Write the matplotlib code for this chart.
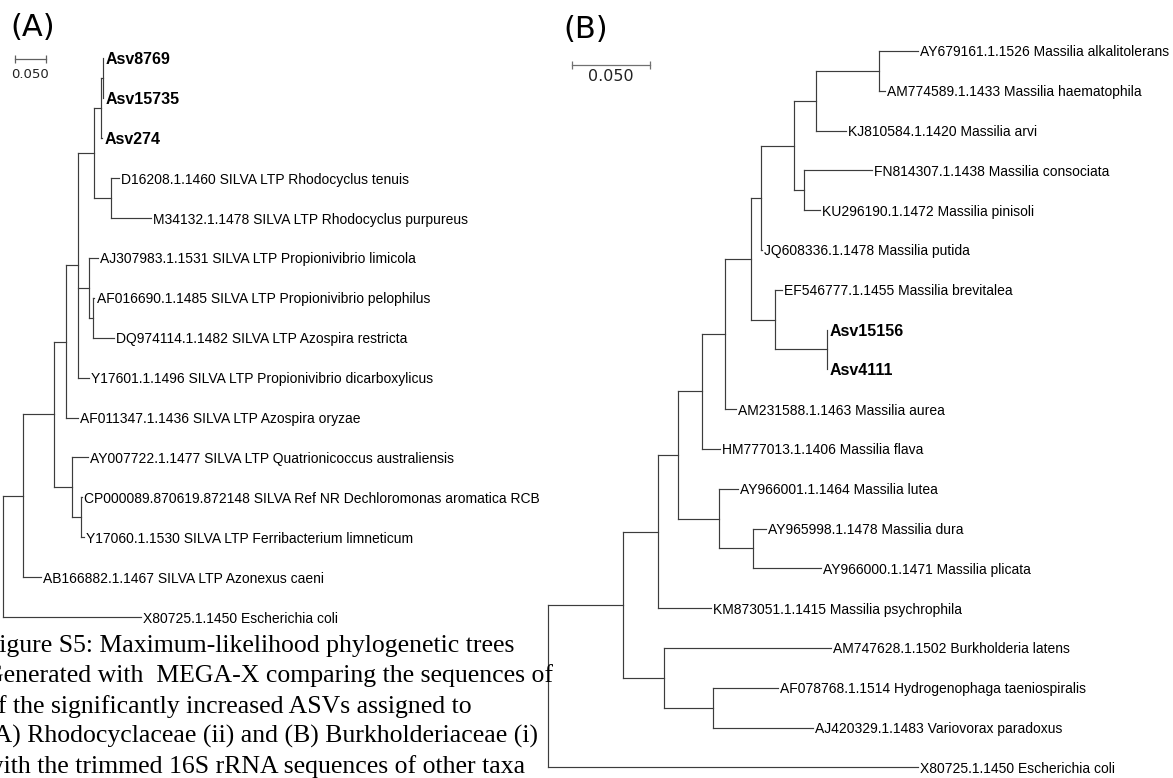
import numpy as np
import matplotlib
matplotlib.use('Agg')
import matplotlib.pyplot as plt
from matplotlib.collections import LineCollection

# ---- tree (A): Rhodocyclaceae, nodes in preorder (parent index, branch length, label)
a_parent = [-1, 0, 1, 2, 3, 4, 5, 6, 7, 7, 6, 5, 11, 11, 4, 14, 14, 16, 16, 4, 3, 2, 21, 21, 23, 23, 1, 0]
a_length = [0, 0.032, 0.050, 0.020, 0.019, 0.027, 0.011, 0.0024, 0.001, 0.001, 0.0016, 0.026, 0.013, 0.065,
            0.018, 0.015, 0.006, 0.003, 0.035, 0.018, 0.019, 0.030, 0.025, 0.015, 0.001, 0.004, 0.029, 0.223]
a_label = ['', '', '', '', '', '', '', '',
           'Asv8769', 'Asv15735', 'Asv274', '',
           'D16208.1.1460 SILVA LTP Rhodocyclus tenuis',
           'M34132.1.1478 SILVA LTP Rhodocyclus purpureus', '',
           'AJ307983.1.1531 SILVA LTP Propionivibrio limicola', '',
           'AF016690.1.1485 SILVA LTP Propionivibrio pelophilus',
           'DQ974114.1.1482 SILVA LTP Azospira restricta',
           'Y17601.1.1496 SILVA LTP Propionivibrio dicarboxylicus',
           'AF011347.1.1436 SILVA LTP Azospira oryzae', '',
           'AY007722.1.1477 SILVA LTP Quatrionicoccus australiensis', '',
           'CP000089.870619.872148 SILVA Ref NR Dechloromonas aromatica RCB',
           'Y17060.1.1530 SILVA LTP Ferribacterium limneticum',
           'AB166882.1.1467 SILVA LTP Azonexus caeni',
           'X80725.1.1450 Escherichia coli']

# ---- tree (B): Burkholderiaceae
b_parent = [-1, 0, 1, 2, 3, 4, 5, 6, 7, 8, 9, 10, 10, 9, 8, 14, 14, 7, 6, 18, 18, 20, 20, 5, 4, 3, 25, 25, 27, 27,
            2, 1, 31, 31, 33, 33, 0]
b_length = [0, 0.048, 0.0224, 0.0128, 0.0154, 0.0147, 0.0167, 0.0064, 0.0212, 0.0141, 0.0404, 0.025, 0.0038,
            0.0192, 0.0064, 0.0436, 0.0103, 0.0006, 0.0154, 0.0045, 0.0333, 0.0003, 0.0003, 0.0071, 0.0115,
            0.0263, 0.0122, 0.0218, 0.0083, 0.0436, 0.034, 0.0263, 0.1071, 0.0314, 0.0417, 0.0641, 0.2372]
b_label = ['', '', '', '', '', '', '', '', '', '', '',
           'AY679161.1.1526 Massilia alkalitolerans',
           'AM774589.1.1433 Massilia haematophila',
           'KJ810584.1.1420 Massilia arvi', '',
           'FN814307.1.1438 Massilia consociata',
           'KU296190.1.1472 Massilia pinisoli',
           'JQ608336.1.1478 Massilia putida', '',
           'EF546777.1.1455 Massilia brevitalea', '',
           'Asv15156', 'Asv4111',
           'AM231588.1.1463 Massilia aurea',
           'HM777013.1.1406 Massilia flava', '',
           'AY966001.1.1464 Massilia lutea', '',
           'AY965998.1.1478 Massilia dura',
           'AY966000.1.1471 Massilia plicata',
           'KM873051.1.1415 Massilia psychrophila', '',
           'AM747628.1.1502 Burkholderia latens', '',
           'AF078768.1.1514 Hydrogenophaga taeniospiralis',
           'AJ420329.1.1483 Variovorax paradoxus',
           'X80725.1.1450 Escherichia coli']

caption = ['Figure S5: Maximum-likelihood phylogenetic trees',
           'Generated with  MEGA-X comparing the sequences of',
           'of the significantly increased ASVs assigned to',
           '(A) Rhodocyclaceae (ii) and (B) Burkholderiaceae (i)',
           'with the trimmed 16S rRNA sequences of other taxa']

LINE = '#3c3c3c'
W, H = 1173, 778


def draw_tree(ax, parent, length, label):
    n = len(parent)
    children = [[] for _ in range(n)]
    for i, p in enumerate(parent):
        if p >= 0:
            children[p].append(i)
    x = np.zeros(n)
    for i in range(1, n):
        x[i] = x[parent[i]] + length[i]
    y = np.zeros(n)
    k = 0
    for i in range(n):
        if not children[i]:
            y[i] = k
            k += 1
    for i in reversed(range(n)):
        if children[i]:
            y[i] = (y[children[i][0]] + y[children[i][-1]]) / 2
    segs = []
    for i in range(n):
        if parent[i] >= 0:
            segs.append([(x[parent[i]], y[i]), (x[i], y[i])])
        if children[i]:
            segs.append([(x[i], y[children[i][0]]), (x[i], y[children[i][-1]])])
    ax.add_collection(LineCollection(segs, colors=LINE, linewidths=0.85, capstyle='projecting'))
    for i in range(n):
        if not children[i]:
            bold = label[i].startswith('Asv')
            ax.annotate(label[i], (x[i], y[i]), xytext=(1.5, 0), textcoords='offset points',
                        ha='left', va='center_baseline', family='Liberation Sans',
                        fontsize=11.5 if bold else 10, fontweight='bold' if bold else 'normal')


def panel_axes(fig, root_px, px_per_unit, leaf0_px, leaf_step):
    ax = fig.add_axes([0, 0, 1, 1])
    ax.set_xlim(-root_px / px_per_unit, (W - root_px) / px_per_unit)
    ax.set_ylim((H - leaf0_px) / leaf_step, -leaf0_px / leaf_step)
    ax.axis('off')
    ax.patch.set_alpha(0)
    return ax


fig = plt.figure(figsize=(W / 100, H / 100), dpi=100)

# panel A
axA = panel_axes(fig, 2.7, 620, 58.5, 39.9)
draw_tree(axA, a_parent, a_length, a_label)
axA.plot([0.0198, 0.0698], [0.0125, 0.0125], color='#606060', lw=0.9, marker='|', ms=6, mew=0.9)
axA.text(0.0448, 0.39, '0.050', ha='center', va='center', fontsize=9.5, family='DejaVu Sans', color='#222222')

# panel B
axB = panel_axes(fig, 548, 1560, 51, 39.8)
draw_tree(axB, b_parent, b_length, b_label)
axB.plot([0.0154, 0.0654], [0.35, 0.35], color='#707070', lw=0.9, marker='|', ms=6, mew=0.9)
axB.text(0.0404, 0.64, '0.050', ha='center', va='center', fontsize=11.5, family='DejaVu Sans', color='#222222')

fig.text(10 / W, 1 - 27.5 / H, '(A)', fontsize=22, family='DejaVu Sans', va='center', ha='left')
fig.text(563 / W, 1 - 29.5 / H, '(B)', fontsize=22, family='DejaVu Sans', va='center', ha='left')

# caption text, cut at the left edge as in the source figure
for i, line in enumerate(caption):
    fig.text(-15 / W, 1 - (652 + i * 30.3) / H, line, fontsize=18.5, family='Liberation Serif',
             ha='left', va='baseline')

fig.savefig('out.png', dpi=100)
